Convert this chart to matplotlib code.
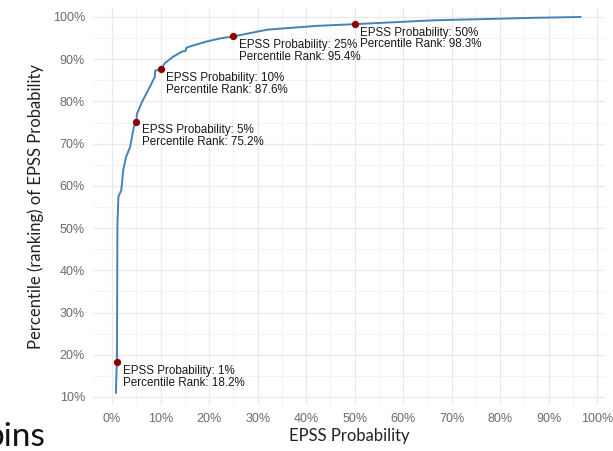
import matplotlib.pyplot as plt
from matplotlib.ticker import FixedLocator

# EPSS probability (%) vs percentile rank (%)
epss = [0.8, 0.9, 1.0, 1.05, 1.1, 1.3, 1.9, 2.3, 2.9, 3.7, 4.1, 4.5, 5.0, 5.1,
        6.1, 6.4, 7.8, 8.8, 8.9, 10.0, 10.9, 12.6, 14.4, 15.2, 15.3, 16.0,
        19.5, 22.6, 25.0, 32.0, 42.3, 50.0, 66.0, 86.8, 96.5]
percentile = [11.0, 16.0, 18.2, 35.0, 51.0, 57.4, 59.0, 63.8, 66.9, 69.2, 71.6,
              74.0, 75.2, 77.0, 79.7, 80.4, 83.5, 85.8, 87.3, 87.6, 89.1, 90.6,
              91.8, 92.0, 92.7, 93.0, 94.2, 95.0, 95.4, 97.0, 97.9, 98.3, 99.2,
              99.8, 100.0]

# highlighted points
mark_epss = [1, 5, 10, 25, 50]
mark_rank = [18.2, 75.2, 87.6, 95.4, 98.3]

x_ticks = list(range(0, 101, 10))
y_ticks = list(range(10, 101, 10))

fig = plt.figure(figsize=(6.13, 4.51), dpi=100)
ax = fig.add_axes([0.152, 0.102, 0.835, 0.880])

ax.plot(epss, percentile, color="#4682B4", linewidth=1.4, zorder=3)
ax.scatter(mark_epss, mark_rank, s=18, color="#8B0000", zorder=4)

for xv, yv in zip(mark_epss, mark_rank):
    ax.annotate(f"EPSS Probability: {xv}%\nPercentile Rank: {yv}%",
                xy=(xv, yv), xytext=(4, -2), textcoords="offset points",
                ha="left", va="top", fontsize=8.4, family="Liberation Sans",
                color="#1a1a1a", linespacing=0.95, zorder=5)

ax.set_xlim(-3.9, 101.6)
ax.set_ylim(8.1, 102.1)
ax.set_xticks(x_ticks)
ax.set_yticks(y_ticks)
ax.set_xticklabels([f"{t}%" for t in x_ticks])
ax.set_yticklabels([f"{t}%" for t in y_ticks])
ax.xaxis.set_minor_locator(FixedLocator([t + 5 for t in range(-10, 101, 10)]))
ax.yaxis.set_minor_locator(FixedLocator([t + 5 for t in range(0, 101, 10)]))

ax.grid(which="major", color="#EBEBEB", linewidth=1.0)
ax.grid(which="minor", color="#F3F3F3", linewidth=0.7)
ax.set_axisbelow(True)
for s in ax.spines.values():
    s.set_visible(False)
ax.tick_params(which="both", length=0, labelsize=9, labelcolor="#6b6b6b", pad=6)
for lab in ax.get_xticklabels() + ax.get_yticklabels():
    lab.set_family("Liberation Sans")

ax.set_xlabel("EPSS Probability", fontsize=12, family="Lato", color="#222222", labelpad=2)
ax.set_ylabel("Percentile (ranking) of EPSS Probability", fontsize=12, family="Lato",
              color="#222222", labelpad=6)

fig.text(0.075, 0.011, "bins", ha="right", va="baseline", fontsize=24,
         family="Lato", color="#111111")

fig.savefig("out.png", dpi=100)
